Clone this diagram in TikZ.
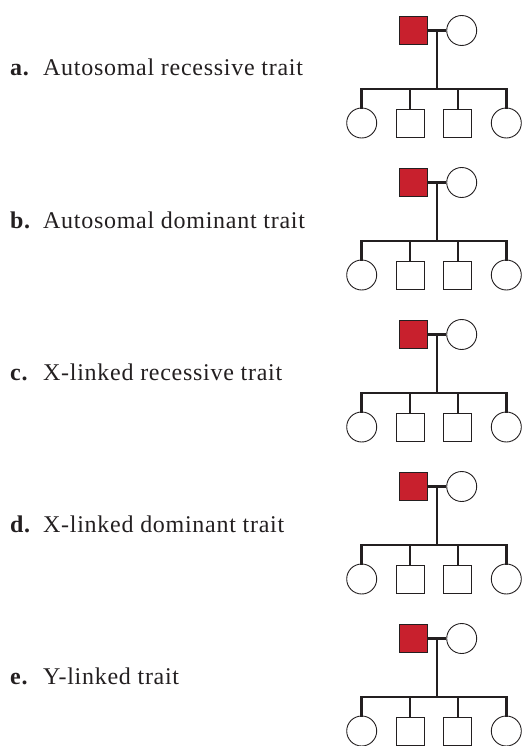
\documentclass[tikz,border=0pt]{standalone}
\usepackage{fontspec}
\setmainfont{Liberation Serif}[LetterSpace=3]
\usepackage{tikz}
\usetikzlibrary{calc}
\definecolor{traitred}{RGB}{200,32,45}
\definecolor{pedgray}{RGB}{35,31,32}

\tikzset{
  male/.style={rectangle,draw=pedgray,line width=0.9pt,minimum size=28pt,inner sep=0pt},
  female/.style={circle,draw=pedgray,line width=0.9pt,minimum size=30pt,inner sep=0pt},
  affected/.style={fill=traitred},
  kin/.style={draw=pedgray,line width=2.5pt},
  letter/.style={anchor=base west,inner sep=0pt,font=\bfseries\fontsize{24}{28}\selectfont,text=pedgray},
  trait/.style={anchor=base west,inner sep=0pt,font=\fontsize{24}{28}\selectfont,text=pedgray}
}

\begin{document}
\begin{tikzpicture}[x=1pt,y=-1pt]
\useasboundingbox (0,0) rectangle (523,746);
\foreach \lab/\txt [count=\i from 0] in {a/Autosomal recessive trait,
    b/Autosomal dominant trait, c/X-linked recessive trait,
    d/X-linked dominant trait, e/Y-linked trait}{
  \pgfmathsetmacro{\y}{30.5+152*\i}
  % label
  \node[letter] (let\i) at (10,\y+45.5) {\lab.};
  \node[trait] (txt\i) at (43,\y+45.5) {\txt};
  % parents
  \node[male,affected] (fa\i) at (413,\y) {};
  \node[female] (mo\i) at (461.7,\y) {};
  \coordinate (mid\i) at (437,\y);
  \coordinate (sib\i) at (437,\y+58.5);
  % children
  \node[female] (ca\i) at (361.7,\y+92.5) {};
  \node[male] (cb\i) at (410,\y+92.5) {};
  \node[male] (cc\i) at (457.8,\y+92.5) {};
  \node[female] (cd\i) at (506.3,\y+92.5) {};
  \draw[kin] (fa\i) -- (mo\i);
  \draw[kin] (mid\i) -- (sib\i);
  \draw[kin,line cap=rect] (ca\i.north) -- (ca\i.north |- sib\i) -- (cd\i.north |- sib\i) -- (cd\i.north);
  \draw[kin] (cb\i.north |- sib\i) -- (cb\i.north);
  \draw[kin] (cc\i.north |- sib\i) -- (cc\i.north);
}
\end{tikzpicture}
\end{document}
